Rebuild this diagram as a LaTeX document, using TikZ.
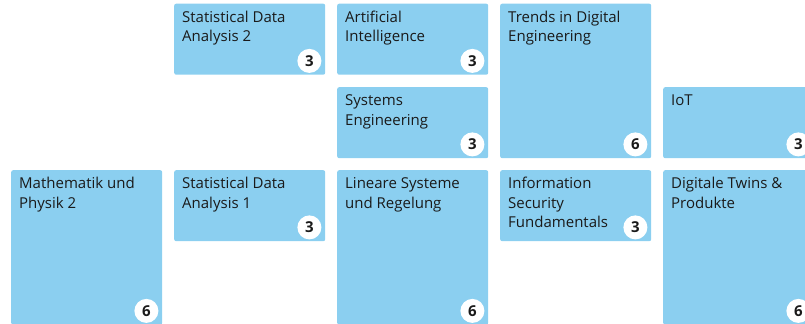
\documentclass[tikz,border=0pt]{standalone}
\usepackage{fontspec}
\setmainfont{Open Sans}
\definecolor{boxblue}{HTML}{8BCFF0}
\definecolor{ink}{HTML}{1A1A1A}
\tikzset{
  modbox/.style={fill=boxblue, draw=none, rounded corners=2bp, minimum width=151bp, anchor=north west, inner sep=0pt},
  single/.style={modbox, minimum height=71bp},
  double/.style={modbox, minimum height=154.5bp},
  lbl/.style={anchor=north west, inner sep=0pt, align=left, text=ink, font=\fontsize{15bp}{19.5bp}\selectfont},
  badge/.style={circle, fill=white, minimum size=24bp, inner sep=0pt, text=ink, font=\fontsize{15bp}{16bp}\selectfont\bfseries}
}
\newcommand{\modlabel}[2]{\node[lbl] (#1-t) at ([shift={(8bp,0bp)}]#1.north west) {\rule{0pt}{18.5bp}#2};}
\newcommand{\modbadge}[2]{\node[badge] (#1-b) at ([shift={(-16bp,14bp)}]#1.south east) {#2};}
\begin{document}
\begin{tikzpicture}[x=1bp,y=-1bp]
\useasboundingbox (0,0) rectangle (805,323);
\clip (0,0) rectangle (805,323);
% row 0
\node[single] (sda2) at (174,3.5) {};
\node[single] (ai) at (337,3.5) {};
\node[double] (trends) at (500,3.5) {};
% row 1
\node[single] (syseng) at (337,87) {};
\node[single] (iot) at (663,87) {};
% row 2
\node[double] (math) at (11,170) {};
\node[single] (sda1) at (174,170) {};
\node[double] (lsr) at (337,170) {};
\node[single] (isf) at (500,170) {};
\node[double] (twins) at (663,170) {};
% labels
\modlabel{sda2}{Statistical Data\\Analysis 2}
\modlabel{ai}{Artificial\\Intelligence}
\modlabel{trends}{Trends in Digital\\Engineering}
\modlabel{syseng}{Systems\\Engineering}
\modlabel{iot}{IoT}
\modlabel{math}{Mathematik und\\Physik 2}
\modlabel{sda1}{Statistical Data\\Analysis 1}
\modlabel{lsr}{Lineare Systeme\\und Regelung}
\modlabel{isf}{Information\\Security\\Fundamentals}
\modlabel{twins}{Digitale Twins \&\\Produkte}
% badges
\modbadge{sda2}{3}
\modbadge{ai}{3}
\modbadge{trends}{6}
\modbadge{syseng}{3}
\modbadge{iot}{3}
\modbadge{math}{6}
\modbadge{sda1}{3}
\modbadge{lsr}{6}
\modbadge{isf}{3}
\modbadge{twins}{6}
\end{tikzpicture}
\end{document}
